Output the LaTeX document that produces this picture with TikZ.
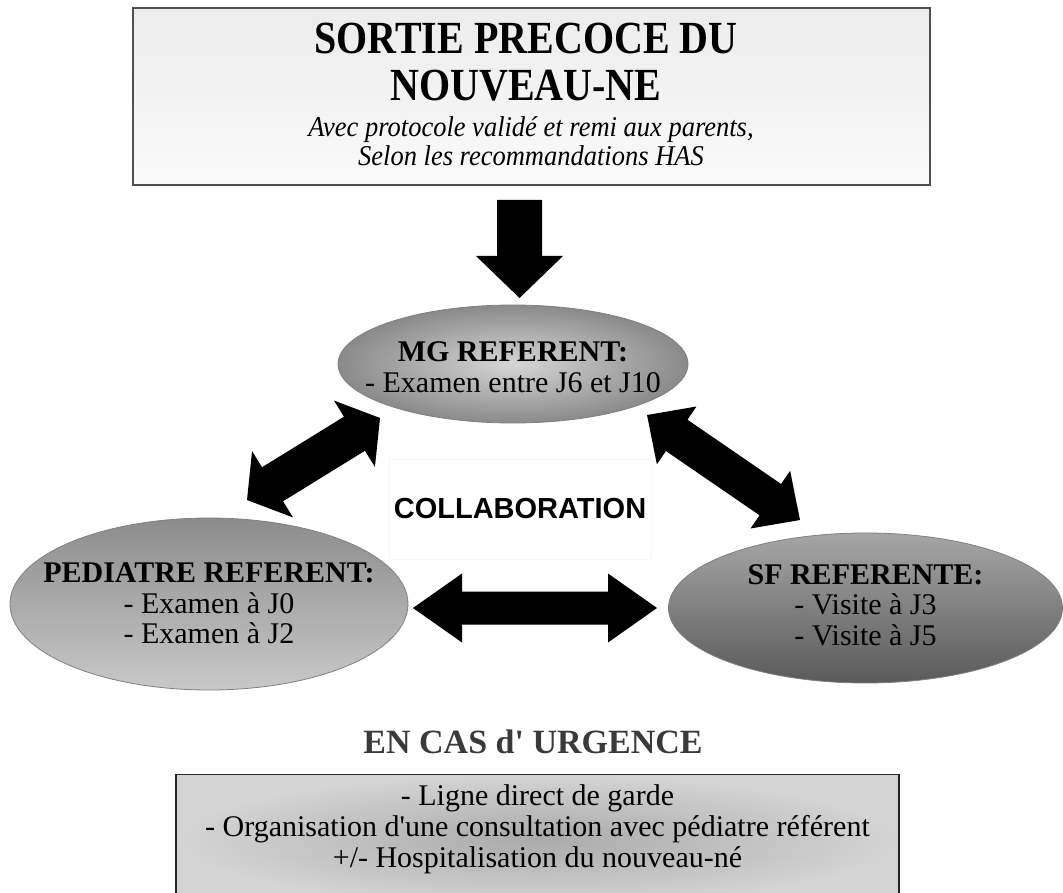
\documentclass[tikz,border=0pt]{standalone}
\usepackage{fontspec}
\usepackage{graphicx}
\setmainfont{Liberation Serif}[Ligatures=TeXOff]
\newfontfamily\collabfont{Liberation Sans}
\usetikzlibrary{calc,shapes.geometric}
\definecolor{boxedge}{HTML}{505050}
\definecolor{ttop}{HTML}{ECECEC}
\definecolor{tbot}{HTML}{FAFAFA}
\definecolor{mgin}{HTML}{D6D6D6}
\definecolor{mgout}{HTML}{8A8A8A}
\definecolor{pedtop}{HTML}{8C8C8C}
\definecolor{pedbot}{HTML}{C8C8C8}
\definecolor{sftop}{HTML}{A6A6A6}
\definecolor{sfbot}{HTML}{5A5A5A}
\definecolor{urgin}{HTML}{AAAAAA}
\definecolor{urgout}{HTML}{D4D4D4}
\definecolor{urgtxt}{HTML}{3A3A3A}
\newcommand{\blockdbl}[5]{%
  \fill[blockarrow] (#1)
   -- ($(#1)!#5!(#2)!#4!90:(#2)$)
   -- ($(#1)!#5!(#2)!#3!90:(#2)$)
   -- ($(#2)!#5!(#1)!#3!-90:(#1)$)
   -- ($(#2)!#5!(#1)!#4!-90:(#1)$)
   -- (#2)
   -- ($(#2)!#5!(#1)!#4!90:(#1)$)
   -- ($(#2)!#5!(#1)!#3!90:(#1)$)
   -- ($(#1)!#5!(#2)!#3!-90:(#2)$)
   -- ($(#1)!#5!(#2)!#4!-90:(#2)$)
   -- cycle;}
\newcommand{\blocksgl}[5]{%
  \fill[blockarrow] ($(#1)!#3!90:(#2)$)
   -- ($(#2)!#5!(#1)!#3!-90:(#1)$)
   -- ($(#2)!#5!(#1)!#4!-90:(#1)$)
   -- (#2)
   -- ($(#2)!#5!(#1)!#4!90:(#1)$)
   -- ($(#2)!#5!(#1)!#3!90:(#1)$)
   -- ($(#1)!#3!-90:(#2)$)
   -- cycle;}
\tikzset{
  blockarrow/.style={fill=black},
  ovalbox/.style={ellipse, draw=black!50, line width=0.8pt, inner sep=0pt},
  ovaltext/.style={inner sep=0pt, align=center, font=\fontsize{30}{30.5}\selectfont},
  txt/.style={inner sep=0pt, align=center},
}
\begin{document}
\begin{tikzpicture}[x=1pt,y=-1pt]
\useasboundingbox (0,0) rectangle (1063,893);
% top box
\node[draw=boxedge, line width=2pt, top color=ttop, bottom color=tbot,
      minimum width=797pt, minimum height=177pt, inner sep=0pt] (top) at (531.5,96.5) {};
\node[txt, anchor=base, font=\fontsize{40}{40}\bfseries] (t1) at (526,54) {\scalebox{1}[1.15]{SORTIE PRECOCE DU}};
\node[txt, anchor=base, font=\fontsize{40}{40}\bfseries] (t2) at (526,101) {\scalebox{1}[1.15]{NOUVEAU-NE}};
\node[txt, anchor=base, font=\fontsize{26.5}{26.5}\itshape] (t3) at (531,137) {\scalebox{1}[1.08]{Avec protocole validé et remi aux parents,}};
\node[txt, anchor=base, font=\fontsize{26.5}{26.5}\itshape] (t4) at (531,166) {\scalebox{1}[1.08]{Selon les recommandations HAS}};
% ellipses
\node[ovalbox, shading=radial, inner color=mgin, outer color=mgout,
      minimum width=350pt, minimum height=118pt] (mg) at (513,364) {};
\node[ovaltext, yshift=-3pt] (mgtext) at (mg) {\textbf{MG REFERENT:}\\- Examen entre J6 et J10};
\node[ovalbox, top color=pedtop, bottom color=pedbot,
      minimum width=398pt, minimum height=172pt] (ped) at (209,604) {};
\node[ovaltext, yshift=0.5pt] (pedtext) at (ped) {\textbf{PEDIATRE REFERENT:}\\- Examen à J0\\- Examen à J2};
\node[ovalbox, top color=sftop, bottom color=sfbot,
      minimum width=394pt, minimum height=150pt] (sf) at (865.5,608) {};
\node[ovaltext, yshift=3pt] (sftext) at (sf) {\textbf{SF REFERENTE:}\\- Visite à J3\\- Visite à J5};
% collaboration
\node[txt, draw=black!3, minimum width=262pt, minimum height=100pt,
      font=\collabfont\bfseries\fontsize{29}{29}\selectfont] (collab) at (520,509) {COLLABORATION};
% arrows
\coordinate (downtail) at (519.5,200);
\coordinate (downtip) at (519.5,298);
\blocksgl{downtail}{downtip}{22.5pt}{43.5pt}{42pt}
\coordinate (lpa) at (247,500);
\coordinate (lpb) at (380,418);
\blockdbl{lpa}{lpb}{20pt}{39pt}{30pt}
\coordinate (rpa) at (647,415);
\coordinate (rpb) at (800,520);
\blockdbl{rpa}{rpb}{19pt}{35pt}{36pt}
\coordinate (hpa) at (413,608);
\coordinate (hpb) at (657,608);
\blockdbl{hpa}{hpb}{16.5pt}{34.5pt}{49pt}
% urgence
\node[txt, text=urgtxt, font=\fontsize{34}{34}\bfseries] (urg) at (533,742) {EN CAS d' URGENCE};
\node[draw=black!85, line width=1.2pt, shading=radial, inner color=urgin, outer color=urgout,
      minimum width=723pt, minimum height=130pt, inner sep=0pt, anchor=north] (ubox) at (537.5,774) {};
\node[txt, font=\fontsize{30}{31}\selectfont] (utext) at (537.5,829)
  {- Ligne direct de garde\\- Organisation d'une consultation avec pédiatre référent\\+/- Hospitalisation du nouveau-né};
\end{tikzpicture}
\end{document}
